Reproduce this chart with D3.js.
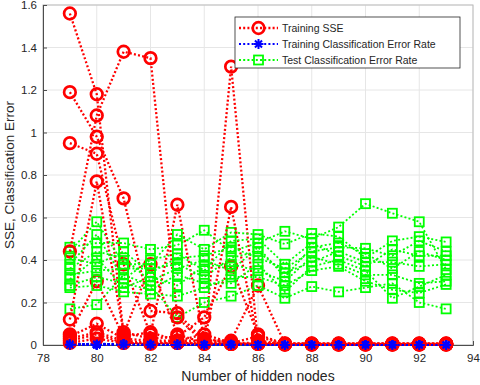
<!DOCTYPE html>
<html>
<head>
<meta charset="utf-8">
<script src="https://cdn.jsdelivr.net/npm/d3@7"></script>
<style>
  body { margin: 0; background: #fff; }
  text { font-family: "Liberation Sans", Arial, Helvetica, sans-serif; fill: #262626; }
</style>
</head>
<body>
<svg id="chart"></svg>
<script>
// number of hidden nodes (x)
const hiddenNodes = [79, 80, 81, 82, 83, 84, 85, 86, 87, 88, 89, 90, 91, 92, 93];

// one row per training run, one value per hidden-node count
const sseRuns = [
    [1.56, 1.18, 0.05, 0.38, 0.05, 0.01, 1.31, 0.01, 0.004, 0.004, 0.004, 0.004, 0.004, 0.004, 0.004],
    [1.19, 0.98, 0.69, 0.16, 0.15, 0.02, 0.02, 0.28, 0.006, 0.006, 0.006, 0.006, 0.006, 0.006, 0.006],
    [0.95, 0.90, 0.38, 0.05, 0.66, 0.03, 0.01, 0.04, 0.003, 0.003, 0.003, 0.003, 0.003, 0.003, 0.003],
    [0.44, 1.08, 1.38, 1.35, 0.13, 0.01, 0.65, 0.02, 0.005, 0.005, 0.005, 0.005, 0.005, 0.005, 0.005],
    [0.12, 0.77, 0.06, 0.03, 0.04, 0.13, 0.37, 0.05, 0.004, 0.004, 0.004, 0.004, 0.004, 0.004, 0.004],
    [0.05, 0.30, 0.04, 0.06, 0.02, 0.05, 0.01, 0.01, 0.007, 0.007, 0.007, 0.007, 0.007, 0.007, 0.007],
    [0.04, 0.10, 0.03, 0.02, 0.02, 0.02, 0.005, 0.005, 0.002, 0.002, 0.002, 0.002, 0.002, 0.002, 0.002],
    [0.03, 0.06, 0.02, 0.01, 0.01, 0.01, 0.005, 0.005, 0.005, 0.005, 0.005, 0.005, 0.005, 0.005, 0.005],
    [0.02, 0.05, 0.01, 0.01, 0.01, 0.005, 0.005, 0.005, 0.004, 0.004, 0.004, 0.004, 0.004, 0.004, 0.004],
    [0.01, 0.03, 0.01, 0.005, 0.01, 0.005, 0.005, 0.005, 0.003, 0.003, 0.003, 0.003, 0.003, 0.003, 0.003]
];

const trainErrRuns = [
    [0.004, 0.006, 0.003, 0.004, 0.002, 0.002, 0.008, 0.001, 0, 0, 0, 0, 0, 0, 0],
    [0.006, 0.004, 0.005, 0.003, 0.001, 0.003, 0.004, 0.002, 0, 0, 0, 0, 0, 0, 0],
    [0.003, 0.005, 0.002, 0.005, 0.002, 0.001, 0.006, 0.001, 0, 0, 0, 0, 0, 0, 0],
    [0.005, 0.003, 0.006, 0.002, 0.001, 0.002, 0.005, 0.002, 0, 0, 0, 0, 0, 0, 0],
    [0.002, 0.006, 0.004, 0.004, 0.002, 0.001, 0.007, 0.001, 0, 0, 0, 0, 0, 0, 0],
    [0.004, 0.002, 0.003, 0.003, 0.001, 0.002, 0.003, 0.001, 0, 0, 0, 0, 0, 0, 0],
    [0.003, 0.004, 0.002, 0.002, 0.001, 0.001, 0.002, 0.001, 0, 0, 0, 0, 0, 0, 0],
    [0.002, 0.003, 0.003, 0.001, 0.001, 0.001, 0.002, 0.001, 0, 0, 0, 0, 0, 0, 0],
    [0.001, 0.002, 0.001, 0.001, 0, 0.001, 0.001, 0, 0, 0, 0, 0, 0, 0, 0],
    [0.001, 0.001, 0.001, 0.001, 0, 0, 0.001, 0, 0, 0, 0, 0, 0, 0, 0]
];

const testErrRuns = [
    [0.46, 0.48, 0.48, 0.45, 0.47, 0.54, 0.44, 0.48, 0.535, 0.50, 0.555, 0.665, 0.62, 0.58, 0.355],
    [0.17, 0.19, 0.33, 0.28, 0.13, 0.20, 0.23, 0.28, 0.22, 0.275, 0.25, 0.27, 0.29, 0.20, 0.17],
    [0.44, 0.58, 0.38, 0.38, 0.52, 0.45, 0.53, 0.52, 0.475, 0.525, 0.51, 0.41, 0.49, 0.51, 0.485],
    [0.41, 0.38, 0.44, 0.34, 0.41, 0.42, 0.46, 0.41, 0.36, 0.44, 0.46, 0.455, 0.42, 0.49, 0.44],
    [0.38, 0.52, 0.31, 0.40, 0.43, 0.35, 0.49, 0.50, 0.38, 0.48, 0.42, 0.37, 0.45, 0.42, 0.42],
    [0.36, 0.44, 0.41, 0.30, 0.36, 0.40, 0.35, 0.46, 0.32, 0.46, 0.48, 0.43, 0.36, 0.44, 0.40],
    [0.33, 0.35, 0.36, 0.36, 0.38, 0.32, 0.41, 0.44, 0.34, 0.39, 0.44, 0.39, 0.39, 0.37, 0.38],
    [0.31, 0.41, 0.27, 0.32, 0.28, 0.37, 0.38, 0.35, 0.30, 0.415, 0.38, 0.33, 0.33, 0.29, 0.30],
    [0.28, 0.32, 0.29, 0.26, 0.33, 0.29, 0.29, 0.38, 0.25, 0.37, 0.40, 0.35, 0.22, 0.275, 0.33],
    [0.27, 0.28, 0.25, 0.24, 0.23, 0.27, 0.32, 0.32, 0.28, 0.35, 0.37, 0.30, 0.26, 0.245, 0.285]
];

const xTicks = [78, 80, 82, 84, 86, 88, 90, 92, 94];
const yTicks = [0, 0.2, 0.4, 0.6, 0.8, 1, 1.2, 1.4, 1.6];
const seriesNames = ['Training SSE', 'Training Classification Error Rate', 'Test Classification Error Rate'];

const width = 480, height = 385;
const margin = {top: 5, right: 7, bottom: 40, left: 43};

const svg = d3.select('#chart')
    .attr('width', width)
    .attr('height', height);

const x = d3.scaleLinear().domain([78, 94]).range([margin.left, width - margin.right]);
const y = d3.scaleLinear().domain([0, 1.6]).range([height - margin.bottom, margin.top]);

const styles = [
    {color: '#ff0000', marker: 'circle', width: 2.3},
    {color: '#0000ff', marker: 'star', width: 2},
    {color: '#00ff00', marker: 'square', width: 1.8}
];

// grid
svg.append('g').selectAll('line').data(xTicks).join('line')
    .attr('x1', d => x(d)).attr('x2', d => x(d))
    .attr('y1', y(0)).attr('y2', y(1.6))
    .attr('stroke', '#e6e6e6').attr('stroke-width', 1);
svg.append('g').selectAll('line').data(yTicks).join('line')
    .attr('x1', x(78)).attr('x2', x(94))
    .attr('y1', d => y(d)).attr('y2', d => y(d))
    .attr('stroke', '#e6e6e6').attr('stroke-width', 1);

// box
svg.append('rect')
    .attr('x', x(78)).attr('y', y(1.6))
    .attr('width', x(94) - x(78)).attr('height', y(0) - y(1.6))
    .attr('fill', 'none').attr('stroke', '#bdbdbd').attr('stroke-width', 1);

const xAxis = svg.append('g')
    .attr('transform', `translate(0,${y(0)})`)
    .call(d3.axisBottom(x).tickValues(xTicks).tickSize(-4).tickPadding(9).tickFormat(d3.format('d')));
const yAxis = svg.append('g')
    .attr('transform', `translate(${x(78)},0)`)
    .call(d3.axisLeft(y).tickValues(yTicks).tickSize(-4).tickPadding(6).tickFormat(d => d3.format('')(+d.toFixed(1))));

[xAxis, yAxis].forEach(a => {
    a.select('.domain').attr('stroke', '#4d4d4d');
    a.selectAll('.tick line').attr('stroke', '#4d4d4d');
    a.selectAll('.tick text').attr('fill', '#262626').style('font-size', '11.5px')
        .style('font-family', '"Liberation Sans", Arial, sans-serif');
});

svg.append('text')
    .attr('x', (x(78) + x(94)) / 2).attr('y', 381)
    .attr('text-anchor', 'middle').style('font-size', '14px')
    .text('Number of hidden nodes');
svg.append('text')
    .attr('transform', `translate(14,${(y(0) + y(1.6)) / 2}) rotate(-90)`)
    .attr('text-anchor', 'middle').style('font-size', '13.5px')
    .text('SSE, Classification Error');

function drawMarker(g, kind, color, cx, cy) {
    if (kind === 'circle') {
        g.append('circle').attr('cx', cx).attr('cy', cy).attr('r', 5.8)
            .attr('fill', 'none').attr('stroke', color).attr('stroke-width', 2.7);
    } else if (kind === 'square') {
        g.append('rect').attr('x', cx - 4.5).attr('y', cy - 4.5).attr('width', 9).attr('height', 9)
            .attr('fill', 'none').attr('stroke', color).attr('stroke-width', 1.8);
    } else {
        const r = 5, q = r * Math.SQRT1_2;
        g.append('path')
            .attr('d', `M${cx - r},${cy}H${cx + r}M${cx},${cy - r}V${cy + r}` +
                `M${cx - q},${cy - q}L${cx + q},${cy + q}M${cx - q},${cy + q}L${cx + q},${cy - q}`)
            .attr('stroke', color).attr('stroke-width', 2).attr('fill', 'none');
    }
}

const plot = svg.append('g');
const line = d3.line().x((d, i) => x(hiddenNodes[i])).y(d => y(d));

sseRuns.forEach((run, t) => {
    [sseRuns[t], trainErrRuns[t], testErrRuns[t]].forEach((vals, s) => {
        const st = styles[s];
        const g = plot.append('g');
        g.append('path').attr('d', line(vals))
            .attr('fill', 'none').attr('stroke', st.color)
            .attr('stroke-width', st.width).attr('stroke-dasharray', '2,2.2');
        vals.forEach((v, i) => drawMarker(g, st.marker, st.color, x(hiddenNodes[i]), y(v)));
    });
});

// legend
const legend = svg.append('g').attr('transform', 'translate(235,17)');
legend.append('rect').attr('width', 225).attr('height', 51)
    .attr('fill', '#fff').attr('stroke', '#262626').attr('stroke-width', 0.8);
seriesNames.forEach((name, i) => {
    const st = styles[i];
    const ly = 11 + i * 16;
    const row = legend.append('g');
    row.append('line').attr('x1', 4).attr('x2', 43).attr('y1', ly).attr('y2', ly)
        .attr('stroke', st.color).attr('stroke-width', st.width).attr('stroke-dasharray', '2,2.2');
    drawMarker(row, st.marker, st.color, 23.5, ly);
    row.append('text').attr('x', 47).attr('y', ly + 4)
        .style('font-size', '10.5px').text(name);
});
</script>
</body>
</html>
